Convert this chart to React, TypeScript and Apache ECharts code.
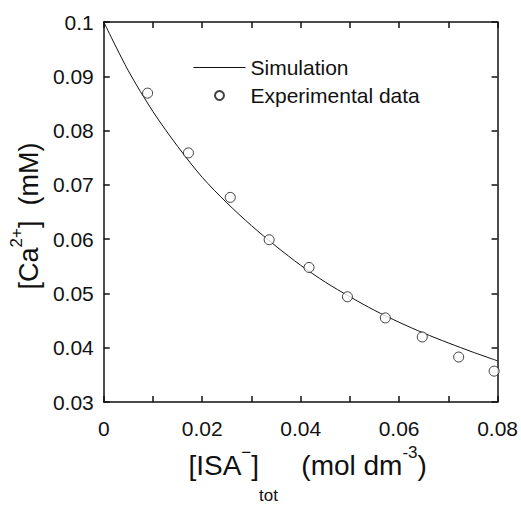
import React, { useEffect, useRef } from "react";
import * as echarts from "echarts";

// Simulation curve
const simX = [0, 0.005, 0.01, 0.015, 0.02, 0.025, 0.03, 0.035, 0.04, 0.045, 0.05, 0.055, 0.06, 0.065, 0.07, 0.075, 0.08];
const simY = [0.1, 0.091, 0.0835, 0.0771, 0.0714, 0.0667, 0.0625, 0.0587, 0.0552, 0.0521, 0.0494, 0.0469, 0.0447, 0.0427, 0.0409, 0.0392, 0.0376];

// Experimental data
const expX = [0.0089, 0.0172, 0.0257, 0.0336, 0.0417, 0.0495, 0.0572, 0.0647, 0.0721, 0.0793];
const expY = [0.0869, 0.0759, 0.0677, 0.0599, 0.0548, 0.0494, 0.0455, 0.042, 0.0383, 0.0357];

const seriesNames = ["Simulation", "Experimental data"];

const FONT = "Liberation Sans, Arial, sans-serif";
const INK = "#111";

export default function App() {
  const ref = useRef<HTMLDivElement>(null);
  useEffect(() => {
    document.body.style.margin = "0";
    if (!ref.current) return;
    const chart = echarts.init(ref.current, null, { renderer: "svg" });
    const axisLine = { show: true, onZero: false, lineStyle: { color: INK, width: 1.5 } };
    const tick = { show: true, inside: true, length: 6, lineStyle: { color: INK, width: 1.5 } };
    const xBase = {
      type: "value",
      min: 0,
      max: 0.08,
      interval: 0.02,
      axisLine,
      axisTick: tick,
      minorTick: { show: true, splitNumber: 2, length: 6, lineStyle: { color: INK, width: 1.5 } },
      splitLine: { show: false },
      minorSplitLine: { show: false },
    };
    const yBase = {
      type: "value",
      min: 0.03,
      max: 0.1,
      interval: 0.01,
      axisLine,
      axisTick: tick,
      splitLine: { show: false },
    };
    chart.setOption({
      animation: false,
      textStyle: { fontFamily: FONT, color: INK },
      grid: { left: 103, right: 22, top: 22, bottom: 92, containLabel: false },
      legend: {
        show: true,
        orient: "vertical",
        left: 193,
        top: 57,
        padding: 0,
        itemWidth: 52,
        itemHeight: 9,
        itemGap: 7,
        textStyle: { fontSize: 21, color: INK, fontFamily: FONT },
        data: [
          { name: seriesNames[0], itemStyle: { opacity: 0 }, lineStyle: { width: 1, color: INK } },
          { name: seriesNames[1] },
        ],
      },
      xAxis: [
        {
          ...xBase,
          position: "bottom",
          axisLabel: { fontSize: 21, color: INK, margin: 16, fontFamily: FONT },
          name: "{m|[ISA}{sup|−}{m|]}{sub|tot}{m|   (mol dm}{sup|-3}{m|)}",
          nameLocation: "middle",
          nameGap: 24,
          nameTextStyle: {
            color: INK,
            fontFamily: FONT,
            padding: [0, 0, 0, 14],
            rich: {
              m: { fontSize: 28, color: INK, fontFamily: FONT },
              sup: { fontSize: 17, color: INK, fontFamily: FONT, padding: [0, 0, 26, 0] },
              sub: { fontSize: 17, color: INK, fontFamily: FONT, padding: [60, 0, 0, 0] },
            },
          },
        },
        {
          ...xBase,
          position: "top",
          axisLabel: { show: false },
        },
      ],
      yAxis: [
        {
          ...yBase,
          position: "left",
          axisLabel: { fontSize: 21, color: INK, margin: 10, fontFamily: FONT },
          name: "{m|[Ca}{sup|2+}{m|]  (mM)}",
          nameLocation: "middle",
          nameRotate: 90,
          nameGap: 54,
          nameTextStyle: {
            color: INK,
            fontFamily: FONT,
            padding: [0, 8, 0, 0],
            rich: {
              m: { fontSize: 27, color: INK, fontFamily: FONT },
              sup: { fontSize: 17, color: INK, fontFamily: FONT, padding: [0, 0, 24, 0] },
            },
          },
        },
        {
          ...yBase,
          position: "right",
          axisLabel: { show: false },
        },
      ],
      series: [
        {
          name: seriesNames[0],
          type: "line",
          xAxisIndex: 0,
          yAxisIndex: 0,
          data: simX.map((x, i) => [x, simY[i]]),
          symbol: "none",
          smooth: 0.3,
          lineStyle: { color: INK, width: 1 },
          itemStyle: { color: INK },
        },
        {
          name: seriesNames[1],
          type: "scatter",
          xAxisIndex: 0,
          yAxisIndex: 0,
          data: expX.map((x, i) => [x, expY[i]]),
          symbol: "circle",
          symbolSize: 10,
          itemStyle: { color: "#fff", borderColor: INK, borderWidth: 1 },
          z: 3,
        },
      ],
    });
    return () => chart.dispose();
  }, []);
  return <div ref={ref} style={{ width: 521, height: 509 }} />;
}
